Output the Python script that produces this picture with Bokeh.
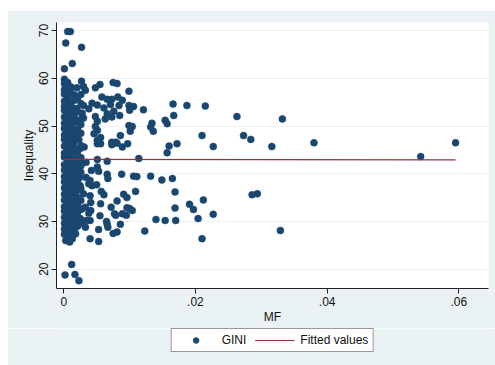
from bokeh.plotting import figure
from bokeh.layouts import column
from bokeh.models import Range1d, FixedTicker, Legend, LegendItem, ColumnDataSource
from bokeh.embed import file_html
from bokeh.resources import INLINE

# --- data ---
# scattered points (MF, GINI)
mf_scatter = [0.0006, 0.0010, 0.0003, 0.0027, 0.0013, 0.0001, 0.0027,
    0.0030, 0.0033, 0.0020, 0.0048, 0.0055, 0.0075, 0.0081, 0.0099, 0.0058, 0.0066, 0.0073, 0.0082, 0.0089,
    0.0043, 0.0051, 0.0030, 0.0038, 0.0020, 0.0061, 0.0071, 0.0084, 0.0099, 0.0106, 0.0121, 0.0100, 0.0076,
    0.0066, 0.0063, 0.0073, 0.0085, 0.0048, 0.0051, 0.0028, 0.0030, 0.0166, 0.0187, 0.0215, 0.0167, 0.0154,
    0.0157, 0.0134, 0.0132, 0.0136, 0.0099, 0.0104, 0.0101, 0.0048, 0.0051, 0.0046, 0.0056, 0.0051, 0.0051,
    0.0056, 0.0023, 0.0086, 0.0073, 0.0079, 0.0073, 0.0081, 0.0097, 0.0089, 0.0031, 0.0025, 0.0160, 0.0172,
    0.0157, 0.0210, 0.0227, 0.0263, 0.0273, 0.0114,
    0.0332, 0.0284, 0.0316, 0.0380, 0.0542, 0.0595, 0.0212, 0.0286, 0.0294, 0.0227, 0.0329, 0.0210,
    0.0051, 0.0066, 0.0028, 0.0034, 0.0051, 0.0053, 0.0042, 0.0066, 0.0067, 0.0088, 0.0106, 0.0111, 0.0132,
    0.0149, 0.0165, 0.0024, 0.0034, 0.0040, 0.0038, 0.0050, 0.0043, 0.0025, 0.0040, 0.0030, 0.0018, 0.0057,
    0.0061, 0.0109, 0.0091, 0.0096, 0.0081, 0.0041, 0.0056, 0.0033, 0.0028, 0.0041, 0.0072, 0.0096, 0.0100,
    0.0104, 0.0077, 0.0079, 0.0089, 0.0095, 0.0055, 0.0038, 0.0020, 0.0025, 0.0034, 0.0030, 0.0040, 0.0065,
    0.0066, 0.0067, 0.0086, 0.0024, 0.0033, 0.0053, 0.0075, 0.0081, 0.0123, 0.0140, 0.0154, 0.0170, 0.0169,
    0.0169, 0.0191, 0.0197, 0.0204, 0.0040, 0.0053, 0.0018, 0.0013, 0.0003, 0.0009, 0.0012, 0.0002, 0.0017,
    0.0023, 0.0018]
gini_scatter = [69.8, 69.8, 67.4, 66.5, 63.1, 62.0, 59.4,
    58.3, 57.5, 58.0, 58.0, 58.7, 59.1, 58.9, 57.3, 56.1, 55.6, 55.6, 56.1, 55.4,
    54.8, 54.4, 54.3, 53.6, 53.6, 53.8, 54.5, 54.3, 54.3, 54.1, 53.4, 53.3, 53.1,
    52.6, 51.5, 51.9, 52.2, 52.0, 51.0, 52.7, 51.7, 54.6, 54.3, 54.2, 52.2, 51.2,
    50.5, 50.6, 49.8, 48.9, 50.1, 49.9, 48.9, 49.9, 49.1, 48.4, 47.6, 47.0, 46.3,
    46.3, 47.1, 48.0, 46.6, 46.6, 46.1, 46.4, 46.3, 45.6, 45.6, 45.3, 45.8, 46.3,
    44.4, 48.0, 45.7, 52.0, 48.0, 43.2,
    51.5, 47.2, 45.7, 46.5, 43.6, 46.5, 34.5, 35.6, 35.8, 31.5, 28.1, 26.4,
    43.0, 42.6, 42.2, 42.4, 41.4, 40.5, 40.7, 39.9, 39.0, 39.9, 39.5, 39.4, 39.5,
    38.7, 39.0, 39.2, 39.2, 38.6, 37.9, 37.7, 37.5, 37.5, 35.4, 35.8, 36.1, 36.3,
    35.6, 36.3, 35.7, 35.0, 34.3, 34.0, 33.7, 33.0, 32.7, 32.3, 33.0, 32.9, 32.7,
    32.3, 31.6, 31.3, 31.6, 31.3, 31.2, 31.7, 31.5, 30.6, 30.2, 29.9, 30.2, 30.0,
    29.4, 28.8, 29.4, 29.5, 28.8, 28.3, 27.5, 27.8, 28.0, 30.4, 30.2, 30.2, 32.8,
    36.2, 33.6, 32.5, 30.6, 26.4, 25.8, 27.4, 26.4, 26.0, 25.7, 21.0, 18.8, 18.9,
    17.6, 42.1]

# dense column of points near MF = 0
col_mf_a = 0.0001
col_gini_a = [59.8, 58.9, 57.6, 56.7, 55.2, 54.1, 53.3, 51.9, 50.6, 49.5, 48.1, 47.2, 45.8, 44.3,
              43.5, 41.9, 40.8, 39.4, 38.3, 37.0, 35.7, 34.5, 33.1, 32.2, 30.9, 29.6, 28.4, 27.3]
col_mf_b = 0.0006
col_gini_b = [59.1, 57.9, 56.3, 55.6, 54.4, 52.8, 51.5, 50.2, 49.0, 47.7, 46.5, 45.2, 44.0, 42.8,
              41.4, 40.2, 39.0, 37.8, 36.5, 35.3, 34.0, 32.7, 31.6, 30.4, 29.1, 27.9, 26.8]
col_mf_c = 0.0011
col_gini_c = [58.2, 56.9, 55.0, 53.9, 52.5, 51.2, 49.9, 48.7, 47.5, 46.0, 44.7, 43.1, 42.0, 40.6,
              39.7, 38.5, 37.2, 35.9, 34.8, 33.5, 32.0, 30.7, 29.5, 28.2, 27.1]
col_mf_d = 0.0016
col_gini_d = [56.5, 55.4, 53.7, 52.0, 50.8, 49.3, 48.3, 46.8, 45.6, 44.4, 43.2, 41.6, 40.4, 39.2,
              38.0, 36.8, 35.5, 34.2, 33.0, 31.8, 30.5, 29.3, 28.0]
col_mf_e = 0.0021
col_gini_e = [55.8, 53.0, 50.9, 49.4, 47.9, 44.6, 43.0, 41.1, 39.8, 38.2, 36.6, 35.1, 33.4, 31.9, 30.8, 29.0]
col_mf_f = 0.0026
col_gini_f = [56.6, 54.7, 51.4, 50.3, 48.5, 45.9, 43.4, 41.7, 40.3, 36.9, 34.4, 32.5, 30.3]

# fitted values line
fit_mf = [0.0, 0.0595]
fit_gini = [43.0, 42.9]

x_ticks = [0, 0.02, 0.04, 0.06]
x_tick_labels = ["0", ".02", ".04", ".06"]
y_ticks = [20, 30, 40, 50, 60, 70]

# --- assemble ---
mf = list(mf_scatter)
gini = list(gini_scatter)
for m, g in [(col_mf_a, col_gini_a), (col_mf_b, col_gini_b), (col_mf_c, col_gini_c),
             (col_mf_d, col_gini_d), (col_mf_e, col_gini_e), (col_mf_f, col_gini_f)]:
    mf += [m] * len(g)
    gini += g

NAVY = "#1A476F"
MAROON = "#90353B"
BG = "#EAF2F3"
FONT = "Liberation Sans"
MARKER_SIZE = 7

p = figure(width=488, height=318, output_backend="svg", toolbar_location=None,
           x_range=Range1d(-0.0011, 0.0645), y_range=Range1d(15.95, 71.7),
           background_fill_color="white", border_fill_color=BG,
           min_border_left=49, min_border_right=7, min_border_top=12, min_border_bottom=40)
p.outline_line_color = None

src = ColumnDataSource(dict(mf=mf, gini=gini))
p.scatter("mf", "gini", source=src, size=MARKER_SIZE, fill_color=NAVY, line_color=NAVY, line_width=0.5)
p.line(fit_mf, fit_gini, line_color=MAROON, line_width=1.2)

p.xgrid.grid_line_color = None
p.ygrid.grid_line_color = BG
p.ygrid.grid_line_width = 1.2

p.xaxis.ticker = FixedTicker(ticks=x_ticks)
p.xaxis.major_label_overrides = {t: l for t, l in zip(x_ticks, x_tick_labels)}
p.yaxis.ticker = FixedTicker(ticks=y_ticks)
p.yaxis.major_label_orientation = "vertical"

for ax in (p.xaxis[0], p.yaxis[0]):
    ax.axis_line_color = "#222222"
    ax.axis_line_width = 1
    ax.major_tick_line_color = "#222222"
    ax.major_tick_out = 5
    ax.major_tick_in = 0
    ax.minor_tick_line_color = None
    ax.major_label_text_font = FONT
    ax.major_label_text_font_size = "12px"
    ax.major_label_text_color = "#111111"
    ax.axis_label_text_font = FONT
    ax.axis_label_text_font_size = "12px"
    ax.axis_label_text_font_style = "normal"
    ax.axis_label_text_color = "#111111"

p.xaxis.axis_label = "MF"
p.yaxis.axis_label = "Inequality"
p.xaxis.major_label_standoff = 3
p.yaxis.major_label_standoff = 3
p.xaxis.axis_label_standoff = 1
p.yaxis.axis_label_standoff = 1

# legend strip below the plot (its glyphs reuse the same data, drawn outside the strip's view)
leg = figure(width=488, height=37, output_backend="svg", toolbar_location=None,
             x_axis_location=None, y_axis_location=None,
             x_range=Range1d(1, 2), y_range=Range1d(100, 101),
             background_fill_color=BG, border_fill_color=BG, min_border=0)
leg.outline_line_color = None
leg.grid.grid_line_color = None
r_pts = leg.scatter("mf", "gini", source=src, size=MARKER_SIZE, fill_color=NAVY, line_color=NAVY)
r_fit = leg.line(fit_mf, fit_gini, line_color=MAROON, line_width=1.2)

legend = Legend(items=[LegendItem(label="GINI", renderers=[r_pts]),
                       LegendItem(label="Fitted values", renderers=[r_fit])],
                orientation="horizontal", location="top_center")
legend.label_text_font = FONT
legend.label_text_font_size = "12px"
legend.label_text_color = "#111111"
legend.border_line_color = "#333333"
legend.border_line_width = 1
legend.background_fill_color = "white"
legend.background_fill_alpha = 1
legend.glyph_width = 40
legend.glyph_height = 14
legend.label_height = 14
legend.spacing = 8
legend.padding = 4
legend.margin = 0
legend.label_standoff = 6
leg.add_layout(legend, "center")

layout = column(p, leg, spacing=0)
layout.margin = (10, 0, 0, 7)

open("out.html", "w").write(file_html(layout, INLINE))
